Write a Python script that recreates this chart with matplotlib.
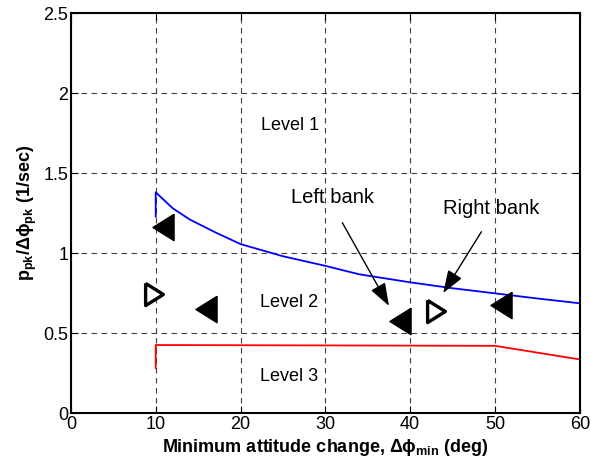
import matplotlib
matplotlib.use("Agg")
import matplotlib.pyplot as plt

plt.rcParams['font.family'] = ['Liberation Sans', 'DejaVu Sans']
plt.rcParams['mathtext.fontset'] = 'custom'
plt.rcParams['mathtext.rm'] = 'Liberation Sans'
plt.rcParams['mathtext.bf'] = 'Liberation Sans:bold'

# Level 1/2 boundary (blue)
lvl12_x = [10, 10, 12, 14, 17, 20, 25, 30, 34, 40, 45, 50, 55, 60]
lvl12_y = [1.227, 1.38, 1.28, 1.21, 1.13, 1.056, 0.98, 0.92, 0.867, 0.817, 0.78, 0.748, 0.716, 0.686]
# Level 2/3 boundary (red)
lvl23_x = [10, 10, 50, 60]
lvl23_y = [0.28, 0.425, 0.42, 0.335]
# Left bank data (filled left triangles)
left_x = [10.85, 15.9, 38.8, 50.7]
left_y = [1.165, 0.651, 0.577, 0.675]
# Right bank data (open right triangles)
right_x = [9.76, 43.0]
right_y = [0.747, 0.64]

left_tri = [(1, 1.25), (-1, 0), (1, -1.25), (1, 1.25)]
right_tri = [(-1, 1.25), (1, 0), (-1, -1.25), (-1, 1.25)]

fig = plt.figure(figsize=(5.91, 4.68), dpi=100)
ax = fig.add_axes([0.120, 0.1175, 0.861, 0.8545])

ax.plot(lvl12_x, lvl12_y, color='blue', lw=1.3)
ax.plot(lvl23_x, lvl23_y, color='red', lw=1.3)
ax.plot(left_x, left_y, linestyle='none', marker=left_tri, ms=19, color='black')
ax.plot(right_x, right_y, linestyle='none', marker=right_tri, ms=16, mfc='white', mec='black', mew=2.4)

ax.text(25.8, 1.80, 'Level 1', ha='center', va='center', fontsize=13)
ax.text(25.7, 0.69, 'Level 2', ha='center', va='center', fontsize=13)
ax.text(25.7, 0.23, 'Level 3', ha='center', va='center', fontsize=13)

ax.text(30.9, 1.35, 'Left bank', ha='center', va='center', fontsize=14.5)
ax.text(49.6, 1.28, 'Right bank', ha='center', va='center', fontsize=14.5)
arrow_kw = dict(arrowstyle='-|>,head_length=0.7,head_width=0.25', color='black', lw=1,
                mutation_scale=20, shrinkA=0, shrinkB=0)
ax.annotate('', xy=(37.5, 0.67), xytext=(32.0, 1.19), arrowprops=arrow_kw)
ax.annotate('', xy=(43.9, 0.75), xytext=(48.4, 1.133), arrowprops=arrow_kw)

ax.set_xlim(0, 60)
ax.set_ylim(0, 2.5)
ax.set_xticks([0, 10, 20, 30, 40, 50, 60])
ax.set_yticks([0, 0.5, 1, 1.5, 2, 2.5])
ax.set_yticklabels(['0', '0.5', '1', '1.5', '2', '2.5'])
ax.tick_params(direction='in', labelsize=13, length=5, top=True, right=True, pad=2)
ax.grid(True, color='black', linestyle=(0, (5, 4)), lw=0.8, alpha=0.75)
for s in ax.spines.values():
    s.set_linewidth(1.5)

ax.set_xlabel(r'Minimum attitude change, $\mathbf{\Delta\phi_{min}}$ (deg)', fontsize=13, fontweight='bold', labelpad=3)
ax.set_ylabel(r'$\mathbf{p_{pk}/\Delta\phi_{pk}}$ (1/sec)', fontsize=13, fontweight='bold', labelpad=3)

fig.savefig('out.png', dpi=100)
